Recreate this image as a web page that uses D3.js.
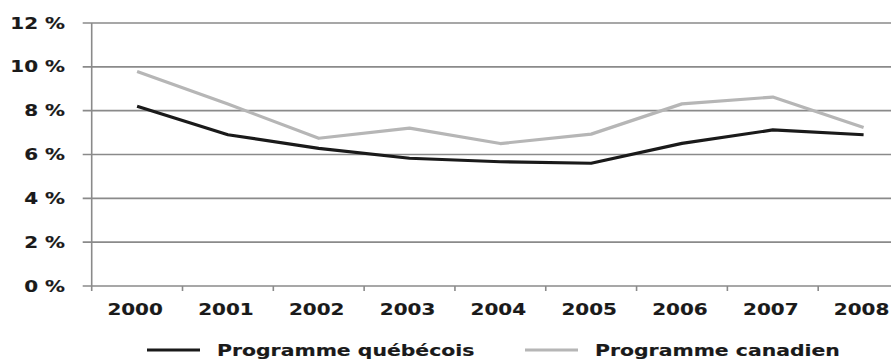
<!DOCTYPE html>
<html>
<head>
<meta charset="utf-8">
<script src="https://cdn.jsdelivr.net/npm/d3@7"></script>
<style>
  html, body { margin: 0; padding: 0; background: #fff; }
  svg { display: block; }
  text { font-family: "DejaVu Sans", sans-serif; font-weight: bold; fill: #1a1a1a; stroke: #1a1a1a; stroke-width: 0.15px; }
</style>
</head>
<body>
<svg id="chart" width="891" height="360"></svg>
<script>
// Years on the horizontal axis
const years = ["2000", "2001", "2002", "2003", "2004", "2005", "2006", "2007", "2008"];
// Rates (%) for each programme
const quebec = [8.2, 6.9, 6.28, 5.83, 5.67, 5.6, 6.51, 7.12, 6.9];
const canada = [9.79, 8.3, 6.74, 7.2, 6.5, 6.93, 8.31, 8.62, 7.23];
// Vertical axis ticks
const yTicks = [0, 2, 4, 6, 8, 10, 12];
const seriesNames = ["Programme québécois", "Programme canadien"];
const seriesColors = ["#1a1a1a", "#b6b6b6"];

const W = 891, H = 360;
const plotLeft = 91.7, plotRight = 909, plotTop = 23, plotBottom = 286;
const sx = 1.33; // horizontal stretch of the lettering

const svg = d3.select("#chart");

const x = d3.scaleBand().domain(years).range([plotLeft, plotRight]).padding(0);
const y = d3.scaleLinear().domain([0, 12]).range([plotBottom, plotTop]);

// Horizontal gridlines with short ticks to the left of the axis
svg.append("g")
  .selectAll("line")
  .data(yTicks)
  .join("line")
  .attr("x1", plotLeft - 9)
  .attr("x2", W)
  .attr("y1", d => y(d))
  .attr("y2", d => y(d))
  .attr("stroke", "#8a8a8a")
  .attr("stroke-width", 1.6);

// Vertical axis line
svg.append("line")
  .attr("x1", plotLeft).attr("x2", plotLeft)
  .attr("y1", y(12)).attr("y2", plotBottom + 5)
  .attr("stroke", "#8a8a8a")
  .attr("stroke-width", 1.6);

// Category boundary ticks below the baseline
const boundaries = years.map(d => x(d)).concat([x(years[years.length - 1]) + x.bandwidth()]);
svg.append("g")
  .selectAll("line")
  .data(boundaries.slice(1))
  .join("line")
  .attr("x1", d => d).attr("x2", d => d)
  .attr("y1", plotBottom).attr("y2", plotBottom + 5)
  .attr("stroke", "#8a8a8a")
  .attr("stroke-width", 1.6);

// Y tick labels
svg.append("g")
  .selectAll("text")
  .data(yTicks)
  .join("text")
  .attr("transform", d => `translate(65,${y(d) + 5.5}) scale(${sx},1)`)
  .attr("text-anchor", "end")
  .attr("font-size", 15)
  .text(d => d + " %");

// X tick labels
svg.append("g")
  .selectAll("text")
  .data(years)
  .join("text")
  .attr("transform", d => `translate(${x(d) + x.bandwidth() / 2 - 2},315) scale(${sx},1)`)
  .attr("text-anchor", "middle")
  .attr("font-size", 15)
  .text(d => d);

// Series lines
const line = d3.line()
  .x((d, i) => x(years[i]) + x.bandwidth() / 2)
  .y(d => y(d));

[[canada, seriesColors[1]], [quebec, seriesColors[0]]].forEach(([vals, color]) => {
  svg.append("path")
    .datum(vals)
    .attr("d", line)
    .attr("fill", "none")
    .attr("stroke", color)
    .attr("stroke-width", 3.2)
    .attr("stroke-linejoin", "round");
});

// Legend
const legendItems = [
  { name: seriesNames[0], color: seriesColors[0], x0: 147, tx: 217 },
  { name: seriesNames[1], color: seriesColors[1], x0: 525, tx: 595 }
];
const lg = svg.append("g");
legendItems.forEach(it => {
  lg.append("line")
    .attr("x1", it.x0).attr("x2", it.x0 + 53)
    .attr("y1", 350).attr("y2", 350)
    .attr("stroke", it.color)
    .attr("stroke-width", 3.2);
  lg.append("text")
    .attr("transform", `translate(${it.tx},355.5) scale(${sx + 0.03},1)`)
    .attr("font-size", 15)
    .text(it.name);
});
</script>
</body>
</html>
